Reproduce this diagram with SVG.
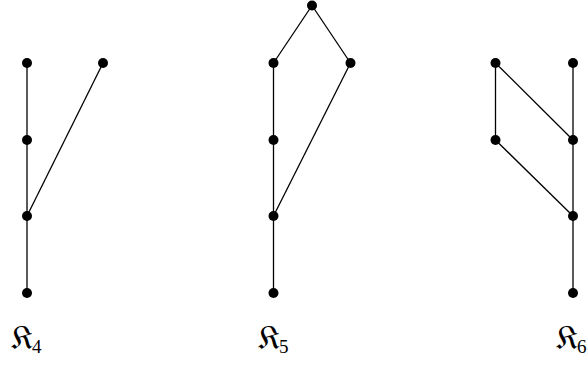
<svg xmlns="http://www.w3.org/2000/svg" width="587" height="365" viewBox="0 0 587 365">
<style>
.e{stroke:#000;stroke-width:1.3;fill:none}
.n{fill:#000}
.k{font-family:"DejaVu Sans","DejaVu Serif",serif;font-size:34px;fill:#000}
.s{font-family:"Liberation Serif",serif;font-size:19px;fill:#000}
</style>
<rect width="587" height="365" fill="#fff"/>
<g id="connectors">
<line class="e" x1="27" y1="63" x2="27" y2="293"/>
<line class="e" x1="103" y1="63" x2="27" y2="216"/>
<line class="e" x1="273.5" y1="63" x2="273.5" y2="293"/>
<line class="e" x1="312" y1="5.5" x2="273.5" y2="63"/>
<line class="e" x1="312" y1="5.5" x2="350.5" y2="63"/>
<line class="e" x1="350.5" y1="63" x2="273.5" y2="216"/>
<line class="e" x1="495.5" y1="63" x2="495.5" y2="140"/>
<line class="e" x1="573" y1="63" x2="573" y2="293"/>
<line class="e" x1="495.5" y1="63" x2="573" y2="140"/>
<line class="e" x1="495.5" y1="140" x2="573" y2="216"/>
</g>
<g id="K4">
<circle id="k4a" class="n" cx="27" cy="63" r="5"/>
<circle id="k4b" class="n" cx="27" cy="140" r="5"/>
<circle id="k4c" class="n" cx="27" cy="216" r="5"/>
<circle id="k4d" class="n" cx="27" cy="293" r="5"/>
<circle id="k4e" class="n" cx="103" cy="63" r="5"/>
<text class="k" x="11" y="349">𝔎</text><text class="s" x="32" y="353">4</text>
</g>
<g id="K5">
<circle id="k5t" class="n" cx="312" cy="5.5" r="5"/>
<circle id="k5a" class="n" cx="273.5" cy="63" r="5"/>
<circle id="k5b" class="n" cx="273.5" cy="140" r="5"/>
<circle id="k5c" class="n" cx="273.5" cy="216" r="5"/>
<circle id="k5d" class="n" cx="273.5" cy="293" r="5"/>
<circle id="k5e" class="n" cx="350.5" cy="63" r="5"/>
<text class="k" x="258" y="349">𝔎</text><text class="s" x="279" y="353">5</text>
</g>
<g id="K6">
<circle id="k6a" class="n" cx="495.5" cy="63" r="5"/>
<circle id="k6b" class="n" cx="495.5" cy="140" r="5"/>
<circle id="k6c" class="n" cx="573" cy="63" r="5"/>
<circle id="k6d" class="n" cx="573" cy="140" r="5"/>
<circle id="k6e" class="n" cx="573" cy="216" r="5"/>
<circle id="k6f" class="n" cx="573" cy="293" r="5"/>
<text class="k" x="556" y="349">𝔎</text><text class="s" x="577" y="353">6</text>
</g>
</svg>
